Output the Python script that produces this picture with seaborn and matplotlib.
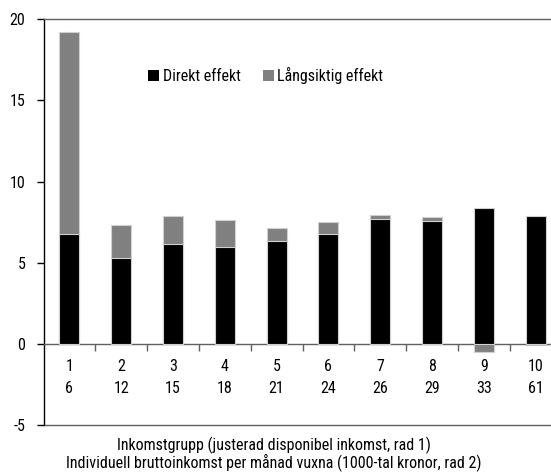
import numpy as np
import pandas as pd
import matplotlib
matplotlib.use("Agg")
import matplotlib.pyplot as plt
from matplotlib.patches import Patch
import seaborn as sns

groups = ["1", "2", "3", "4", "5", "6", "7", "8", "9", "10"]
income = ["6", "12", "15", "18", "21", "24", "26", "29", "33", "61"]
direct = [6.75, 5.30, 6.18, 5.97, 6.34, 6.75, 7.67, 7.60, 8.40, 7.90]
longterm = [12.45, 2.00, 1.67, 1.66, 0.78, 0.73, 0.28, 0.20, -0.50, -0.10]
yticks = [-5, 0, 5, 10, 15, 20]
xlabel1 = "Inkomstgrupp (justerad disponibel inkomst, rad 1)"
xlabel2 = "Individuell bruttoinkomst per månad vuxna (1000-tal kronor, rad 2)"

sns.set_theme(style="white")
plt.rcParams["font.family"] = ["Roboto Condensed", "DejaVu Sans"]
plt.rcParams["text.color"] = "black"
plt.rcParams["xtick.color"] = "black"
plt.rcParams["ytick.color"] = "black"
FS = 11.5
plt.rcParams["font.size"] = FS

labels = [f"{g}\n{i}" for g, i in zip(groups, income)]
d = np.array(direct)
lt = np.array(longterm)
gray_top = np.where(lt > 0, d + lt, lt)
df = pd.DataFrame({"cat": labels, "direct": d, "graytop": gray_top})

fig = plt.figure(figsize=(5.51, 4.73), dpi=100)
ax = fig.add_axes([43.5 / 551, 1 - 425 / 473, 518 / 551, (425 - 19.3) / 473])

sns.barplot(data=df, x="cat", y="graytop", color="#808080", saturation=1,
            width=0.386, edgecolor="#d0d0d0", linewidth=0.8, ax=ax, zorder=2)
sns.barplot(data=df, x="cat", y="direct", color="#000000", saturation=1,
            width=0.386, edgecolor="#d0d0d0", linewidth=0.8, ax=ax, zorder=3)

ax.set_xlim(-0.5, len(labels) - 0.5)
ax.set_ylim(-5, 20)
ax.set_yticks(yticks)
ax.set_yticklabels([str(t) for t in yticks], fontsize=FS)
ax.set_xlabel("")
ax.set_ylabel("")

ax.spines["right"].set_visible(False)
ax.spines["top"].set_color("#606060")
ax.spines["top"].set_linewidth(1.0)
ax.spines["left"].set_color("#000000")
ax.spines["left"].set_linewidth(1.0)
ax.spines["bottom"].set_position(("data", 0))
ax.spines["bottom"].set_color("#606060")
ax.spines["bottom"].set_linewidth(1.0)
ax.axhline(-5, color="#606060", lw=1.0, clip_on=False, zorder=1)

ax.set_xticks(np.arange(len(labels)))
ax.set_xticklabels(labels, fontsize=FS, linespacing=1.55)
ax.set_xticks(np.arange(len(labels) - 1) + 0.5, minor=True)
ax.tick_params(axis="x", which="major", length=0, pad=11)
ax.tick_params(axis="x", which="minor", length=5, width=1, color="#606060",
               direction="out", bottom=True)
ax.tick_params(axis="y", which="major", length=5, width=1, color="#000000",
               direction="out", left=True, pad=8)

handles = [Patch(facecolor="#000000", edgecolor="none", label="Direkt effekt"),
           Patch(facecolor="#808080", edgecolor="none", label="Långsiktig effekt")]
leg = ax.legend(handles=handles, loc="upper left", bbox_to_anchor=(0.19, 0.897),
                ncol=2, frameon=False, fontsize=FS, handlelength=0.7,
                handleheight=0.7, handletextpad=0.2, columnspacing=1.4,
                borderaxespad=0)

fig.text(274 / 551, 1 - 445 / 473, xlabel1, ha="center", va="center", fontsize=FS)
fig.text(274 / 551, 1 - 462 / 473, xlabel2, ha="center", va="center", fontsize=FS)

fig.savefig("out.png", dpi=100)
